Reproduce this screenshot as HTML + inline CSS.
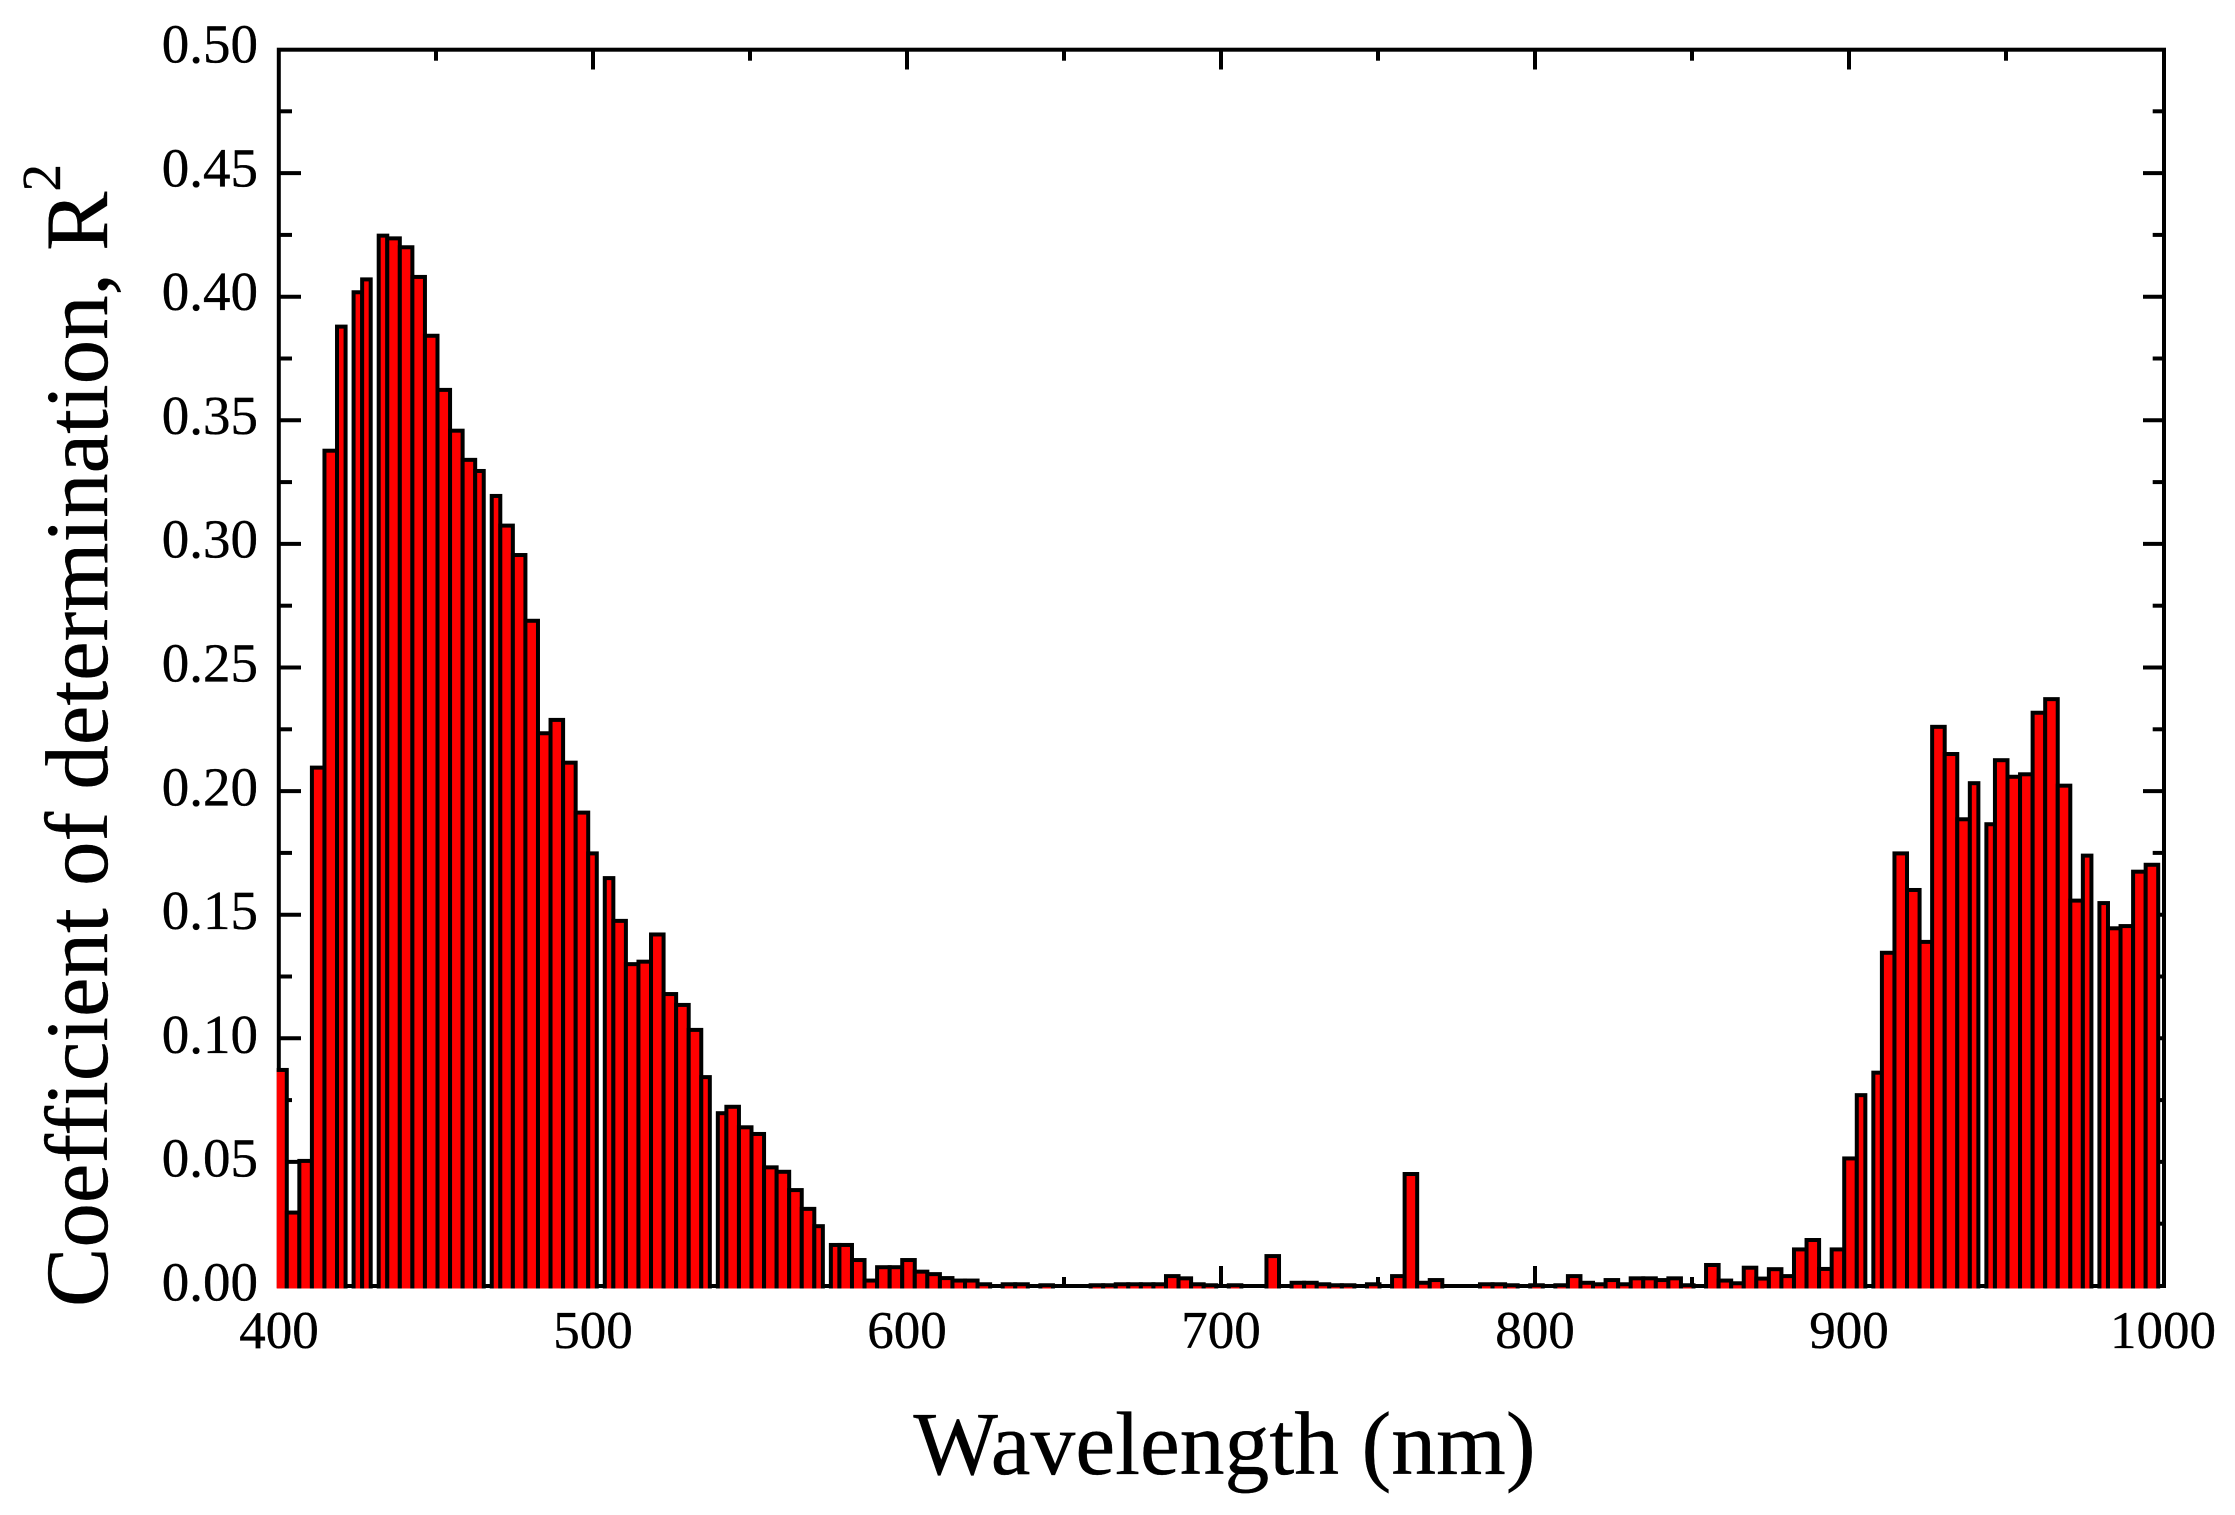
<!DOCTYPE html>
<html>
<head>
<meta charset="utf-8">
<title>Coefficient of determination by wavelength</title>
<style>
html,body{margin:0;padding:0;background:#fff;width:2235px;height:1515px;overflow:hidden}
svg{display:block}
text{font-family:"Liberation Serif",serif;fill:#000;stroke:#000;stroke-width:0.35px}
</style>
</head>
<body>
<svg id="chart" xmlns="http://www.w3.org/2000/svg" width="2235" height="1515" viewBox="0 0 2235 1515">
  <defs>
    <clipPath id="bar-clip"><rect x="276.7" y="40" width="1890" height="1248.5"/></clipPath>
  </defs>
  <rect x="0" y="0" width="2235" height="1515" fill="#fff"/>
  <g id="ticks"></g>
  <rect x="278.8" y="49.7" width="1885.2" height="1236.3" fill="none" stroke="#000" stroke-width="4"/>
  <g id="bars" clip-path="url(#bar-clip)"></g>
  <g id="labels"></g>
  <text x="1224.5" y="1474" font-size="89.6" text-anchor="middle">Wavelength (nm)</text>
  <text transform="translate(107,1307) rotate(-90)" font-size="89">Coefficient of determination, R<tspan font-size="55" dy="-47">2</tspan></text>
</svg>
<script>
const wavelengths = [400,404,408,412,416,420,424,428,432,436,440,444,448,452,456,460,464,468,472,476,480,484,488,492,496,500,504,508,512,516,520,524,528,532,536,540,544,548,552,556,560,564,568,572,576,580,584,588,592,596,600,604,608,612,616,620,624,628,632,636,640,644,648,652,656,660,664,668,672,676,680,684,688,692,696,700,704,708,712,716,720,724,728,732,736,740,744,748,752,756,760,764,768,772,776,780,784,788,792,796,800,804,808,812,816,820,824,828,832,836,840,844,848,852,856,860,864,868,872,876,880,884,888,892,896,900,904,908,912,916,920,924,928,932,936,940,944,948,952,956,960,964,968,972,976,980,984,988,992,996];
const r2Values = [0.0872,0.0295,0.0504,0.2095,0.3377,0.3879,0.4018,0.407,0.4247,0.4236,0.42,0.408,0.3842,0.3623,0.3458,0.334,0.3295,0.3194,0.3074,0.2955,0.2689,0.2234,0.2288,0.2115,0.1913,0.1748,0.1648,0.1475,0.13,0.131,0.142,0.1179,0.1135,0.1034,0.0843,0.0697,0.0723,0.064,0.0613,0.0478,0.046,0.0386,0.031,0.024,0.0164,0.0164,0.0103,0.002,0.0074,0.0074,0.0103,0.0056,0.0046,0.003,0.002,0.002,0.0005,0,0.0005,0.0005,0,0.0001,0,0,0,0.0001,0.0001,0.0005,0.0005,0.0005,0.0005,0.0038,0.0029,0.0005,0.0001,0,0.0001,0,0,0.0119,0,0.0011,0.0011,0.0005,0.0001,0.0001,0,0.0005,0,0.0038,0.0451,0.0011,0.0022,0,0,0,0.0005,0.0005,0.0001,0,0.0001,0,0.0001,0.0038,0.0011,0.0005,0.0022,0.0005,0.0029,0.0029,0.0022,0.0029,0.0001,0,0.0083,0.002,0.0009,0.0072,0.0028,0.0066,0.0038,0.0146,0.0184,0.0067,0.0146,0.0514,0.077,0.0861,0.1346,0.1748,0.16,0.139,0.226,0.215,0.1886,0.2032,0.1866,0.2125,0.2058,0.2068,0.2317,0.2372,0.2022,0.1557,0.1739,0.1547,0.1445,0.1454,0.1674,0.1702];
const xTickLabels = ["400","500","600","700","800","900","1000"];
const yTickLabels = ["0.00","0.05","0.10","0.15","0.20","0.25","0.30","0.35","0.40","0.45","0.50"];

const SVGNS = "http://www.w3.org/2000/svg";
const xAt = w => 279 + (w - 400) * 3.14;
const yAt = v => 1285.5 - v * 2472;
const barStep = 4 * 3.14;
const gapAfter = new Set([5,7,16,25,34,43,126,135,144]);
const ticksG = document.getElementById("ticks");
const barsG = document.getElementById("bars");
const labelsG = document.getElementById("labels");

function tickLine(x1, y1, x2, y2) {
  const l = document.createElementNS(SVGNS, "line");
  l.setAttribute("x1", x1);
  l.setAttribute("y1", y1);
  l.setAttribute("x2", x2);
  l.setAttribute("y2", y2);
  l.setAttribute("stroke", "#000");
  l.setAttribute("stroke-width", "4");
  
  
  ticksG.appendChild(l);
}

// x ticks: major at each label, minor midway
xTickLabels.forEach((lab, i) => {
  const w = Number(lab);
  if (i > 0 && i < xTickLabels.length - 1) {
    tickLine(xAt(w), 1286, xAt(w), 1266);
    tickLine(xAt(w), 50, xAt(w), 69.5);
  }
  if (i < xTickLabels.length - 1) {
    const m = (w + Number(xTickLabels[i + 1])) / 2;
    tickLine(xAt(m), 1286, xAt(m), 1277);
    tickLine(xAt(m), 50, xAt(m), 60.7);
  }
  const t = document.createElementNS(SVGNS, "text");
  t.textContent = lab;
  t.setAttribute("x", xAt(w));
  t.setAttribute("y", 1348);
  t.setAttribute("font-size", "53");
  t.setAttribute("text-anchor", "middle");
  
  
  labelsG.appendChild(t);
});

// y ticks: major at each label, minor midway
yTickLabels.forEach((lab, i) => {
  const v = Number(lab);
  if (i > 0 && i < yTickLabels.length - 1) {
    tickLine(279, yAt(v), 301, yAt(v));
    tickLine(2164, yAt(v), 2143, yAt(v));
  }
  if (i < yTickLabels.length - 1) {
    const m = (v + Number(yTickLabels[i + 1])) / 2;
    tickLine(279, yAt(m), 292, yAt(m));
    tickLine(2164, yAt(m), 2152.7, yAt(m));
  }
  const t = document.createElementNS(SVGNS, "text");
  t.textContent = lab;
  t.setAttribute("x", 258);
  t.setAttribute("y", yAt(v) + 15 - 4 * v);
  t.setAttribute("font-size", "55");
  t.setAttribute("text-anchor", "end");
  
  
  labelsG.appendChild(t);
});

// bars
wavelengths.forEach((w, i) => {
  const v = r2Values[i];
  if (!(v > 0)) return;
  const center = xAt(w) + 1.5;
  let left = center - barStep / 2;
  let right = center + barStep / 2;
  if (gapAfter.has(i)) right -= 4;
  if (gapAfter.has(i - 1)) left += 4;
  const r = document.createElementNS(SVGNS, "rect");
  r.setAttribute("x", left);
  r.setAttribute("y", yAt(v));
  r.setAttribute("width", right - left);
  r.setAttribute("height", 1300 - yAt(v));
  r.setAttribute("fill", "#ff0000");
  r.setAttribute("stroke", "#000");
  r.setAttribute("stroke-width", "4");
  
  
  barsG.appendChild(r);
});
</script>
</body>
</html>
